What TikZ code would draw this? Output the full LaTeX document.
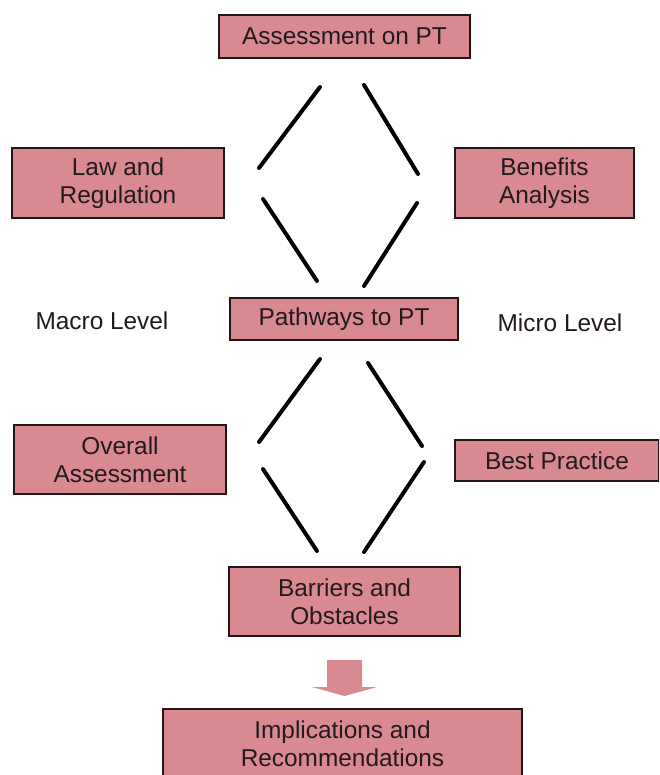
\documentclass[tikz,border=0pt]{standalone}
\usepackage{fontspec}
\setmainfont{Liberation Sans}
\definecolor{boxfill}{HTML}{D98A91}
\definecolor{boxline}{HTML}{241618}
\definecolor{txt}{HTML}{231A1C}
\begin{document}
\begin{tikzpicture}[x=1pt,y=-1pt,
  pbox/.style={draw=boxline, line width=2pt, fill=boxfill, inner sep=0pt,
    align=center, text=txt, font=\fontsize{24.4}{28}\selectfont},
  lbl/.style={inner sep=0pt, text=txt, font=\fontsize{24.4}{28}\selectfont},
  link/.style={line width=4pt, black, line cap=round}]
\useasboundingbox (0,0) rectangle (659,775);
\clip (0,0) rectangle (659,775);
\fill[white] (0,0) rectangle (659,775);

\node[pbox, minimum width=251pt, minimum height=43pt] (assess) at (344.5,36.5) {Assessment on PT};
\node[pbox, minimum width=212pt, minimum height=70pt] (law) at (118,183) {Law and\\Regulation};
\node[pbox, minimum width=179pt, minimum height=70pt] (ben) at (544.5,183) {Benefits\\Analysis};
\node[pbox, minimum width=228pt, minimum height=42pt] (path) at (344,319) {Pathways to PT};
\node[lbl] (macro) at (102,321) {Macro Level};
\node[lbl] (micro) at (560,323) {Micro Level};
\node[pbox, minimum width=212pt, minimum height=69pt] (overall) at (120,459.5) {Overall\\Assessment};
\node[pbox, minimum width=204pt, minimum height=41pt] (best) at (557,460.5) {Best Practice};
\node[pbox, minimum width=231pt, minimum height=69pt] (barr) at (344.5,601.5) {Barriers and\\Obstacles};
\node[pbox, minimum width=359pt, minimum height=70pt] (impl) at (342.5,743.5) {Implications and\\Recommendations};

% upper diamond
\coordinate (u1a) at (320,87);  \coordinate (u1b) at (259,168);
\coordinate (u2a) at (364,85);  \coordinate (u2b) at (418,174);
\coordinate (u3a) at (263,199); \coordinate (u3b) at (317,281);
\coordinate (u4a) at (417,203); \coordinate (u4b) at (364,286);
\draw[link] (u1a) -- (u1b);
\draw[link] (u2a) -- (u2b);
\draw[link] (u3a) -- (u3b);
\draw[link] (u4a) -- (u4b);
% lower diamond
\coordinate (l1a) at (320,359); \coordinate (l1b) at (259,442);
\coordinate (l2a) at (368,363); \coordinate (l2b) at (422,446);
\coordinate (l3a) at (263,469); \coordinate (l3b) at (317,551);
\coordinate (l4a) at (424,462); \coordinate (l4b) at (364,552);
\draw[link] (l1a) -- (l1b);
\draw[link] (l2a) -- (l2b);
\draw[link] (l3a) -- (l3b);
\draw[link] (l4a) -- (l4b);

% block arrow
\fill[boxfill] (327,660) -- (362,660) -- (362,687) -- (377,687) -- (344.5,696)
  -- (312,687) -- (327,687) -- cycle;
\end{tikzpicture}
\end{document}
